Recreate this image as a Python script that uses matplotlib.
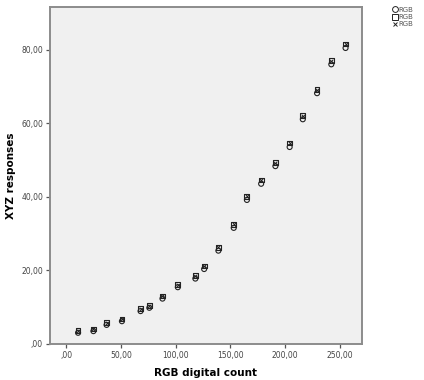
import matplotlib
matplotlib.use("Agg")
import matplotlib.pyplot as plt
from matplotlib.lines import Line2D

# Data
rgb_count = [11, 25, 37, 51, 68, 76, 88, 102, 118, 126, 139, 153, 165, 178, 191, 204, 216, 229, 242, 255]
resp_circle = [3.05, 3.5, 5.2, 6.2, 8.95, 9.85, 12.35, 15.45, 17.8, 20.4, 25.4, 31.6, 39.2, 43.6, 48.4, 53.6, 61.15, 68.25, 76.1, 80.55]
resp_square = [3.65, 4.1, 5.8, 6.8, 9.55, 10.45, 13.05, 16.15, 18.6, 21.2, 26.3, 32.6, 40.2, 44.6, 49.4, 54.7, 62.25, 69.35, 77.2, 81.65]
resp_cross = [3.6, 4.05, 5.75, 6.75, 9.5, 10.4, 13.0, 16.1, 18.6, 21.15, 26.35, 32.7, 40.3, 44.55, 49.3, 54.6, 62.15, 69.2, 77.05, 81.6]
series_labels = ["RGB", "RGB", "RGB"]
x_ticks = [0, 50, 100, 150, 200, 250]
x_ticklabels = [",00", "50,00", "100,00", "150,00", "200,00", "250,00"]
y_ticks = [0, 20, 40, 60, 80]
y_ticklabels = [",00", "20,00", "40,00", "60,00", "80,00"]

fig = plt.figure(figsize=(4.24, 3.80), dpi=100)
ax = fig.add_axes([50/424, 36/380, 312/424, 337/380])
ax.set_facecolor("#f0f0f0")

ax.scatter(rgb_count, resp_circle, s=13, marker="o", facecolors="none", edgecolors="#222222", linewidths=0.8, zorder=3)
ax.scatter(rgb_count, resp_square, s=12, marker="s", facecolors="none", edgecolors="#222222", linewidths=0.8, zorder=3)
ax.scatter(rgb_count, resp_cross, s=7, marker="x", color="#222222", linewidths=0.7, zorder=3)

ax.set_xlim(-14.6, 270)
ax.set_ylim(0, 91.7)
ax.set_xticks(x_ticks)
ax.set_xticklabels(x_ticklabels)
ax.set_yticks(y_ticks)
ax.set_yticklabels(y_ticklabels)
ax.tick_params(direction="out", length=3, width=0.9, color="#555555", labelsize=5.5, labelcolor="#444444", pad=2)

for sp in ax.spines.values():
    sp.set_color("#8c8c8c")
    sp.set_linewidth(1.4)

ax.set_xlabel("RGB digital count", fontsize=7.5, fontweight="bold", labelpad=6)
ax.set_ylabel("XYZ responses", fontsize=7.5, fontweight="bold", labelpad=4)

handles = [
    Line2D([], [], linestyle="none", marker="o", markerfacecolor="none", markeredgecolor="#222222", markersize=4.2, markeredgewidth=0.7),
    Line2D([], [], linestyle="none", marker="s", markerfacecolor="none", markeredgecolor="#222222", markersize=4.2, markeredgewidth=0.7),
    Line2D([], [], linestyle="none", marker="x", color="#222222", markersize=3.2, markeredgewidth=0.7),
]
fig.legend(handles, series_labels, loc="upper left", bbox_to_anchor=(392/424, 1 - 6/380), frameon=False,
           fontsize=5, handlelength=0.6, handletextpad=0.2, labelspacing=0.2, borderpad=0.1,
           borderaxespad=0.0, labelcolor="#555555")

fig.savefig("out.png", dpi=100)
